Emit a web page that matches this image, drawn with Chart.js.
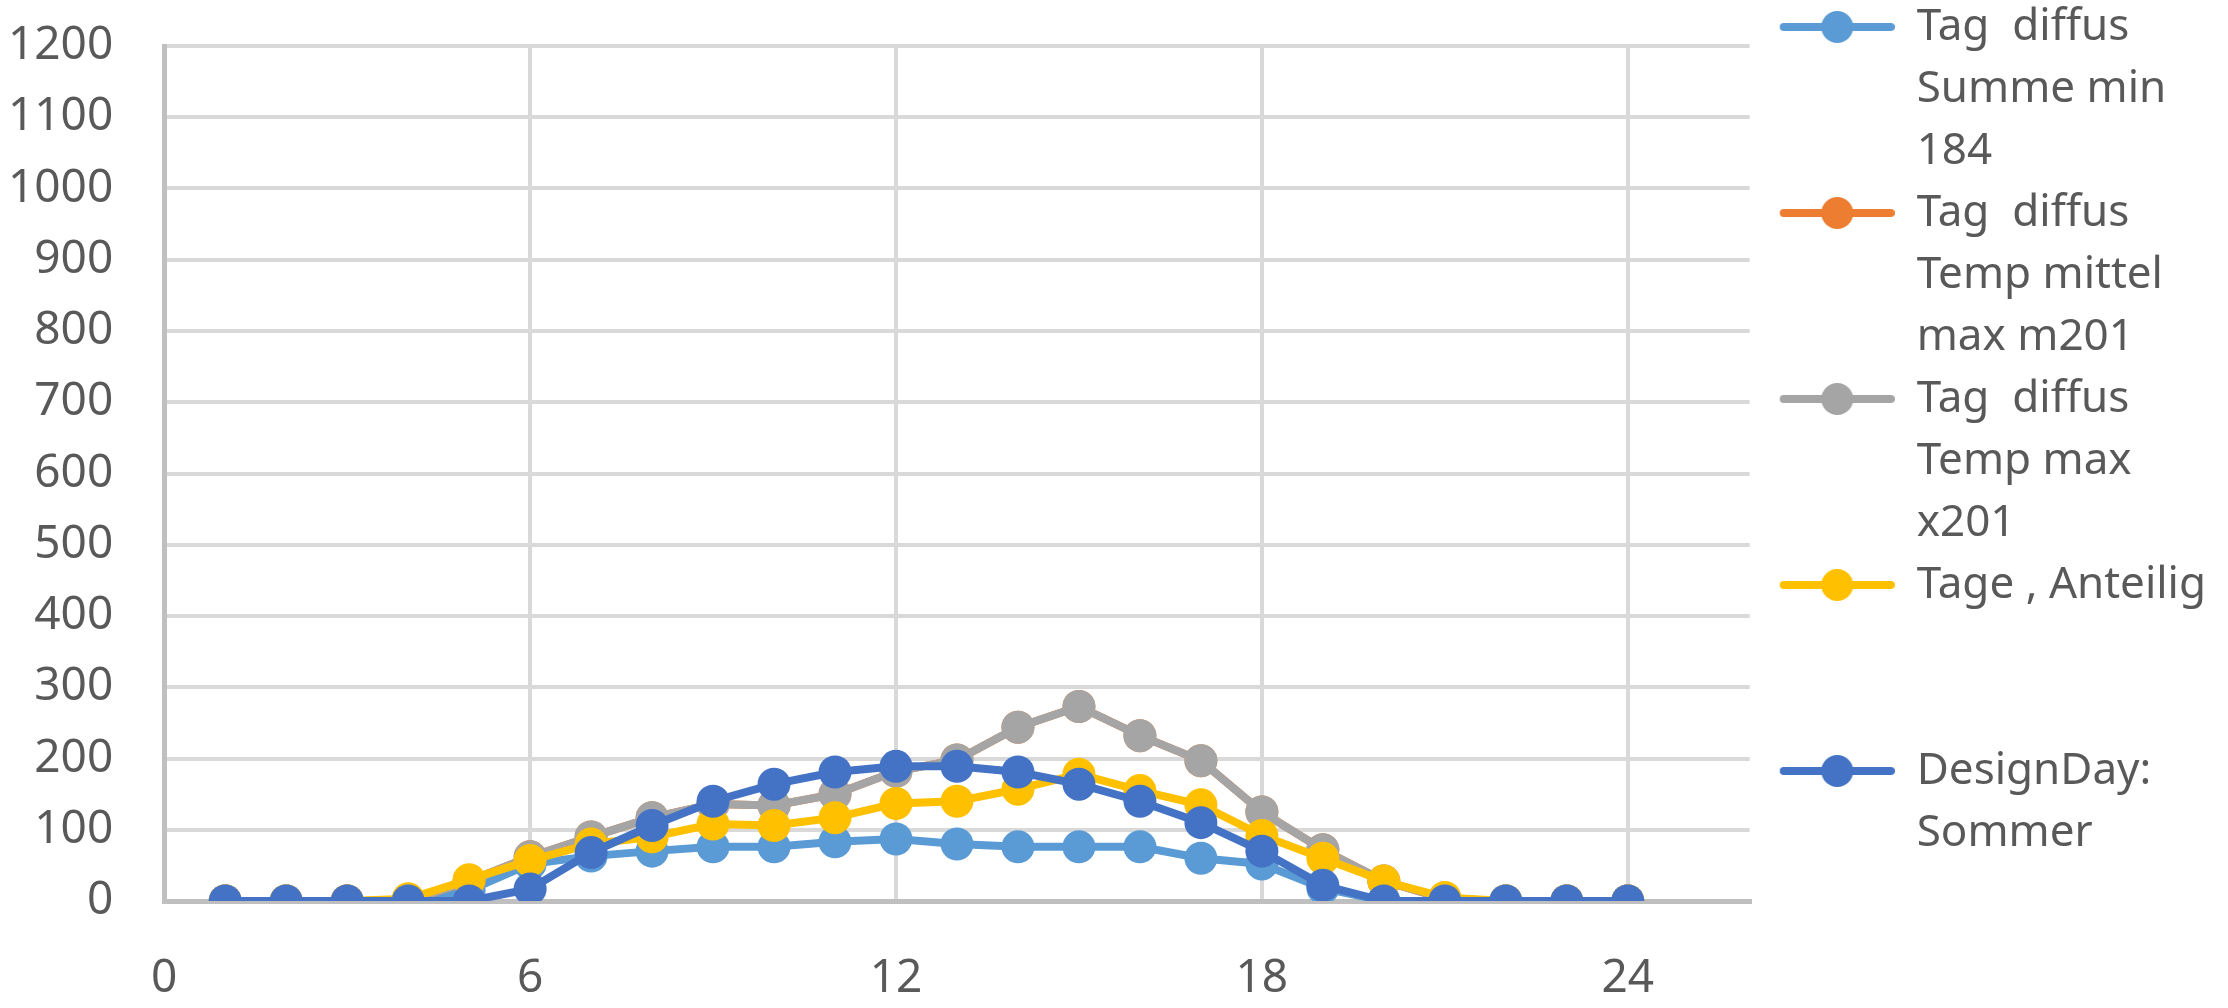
<!DOCTYPE html>
<html>
<head>
<meta charset="utf-8">
<script src="https://cdn.jsdelivr.net/npm/chart.js@4.4.0/dist/chart.umd.min.js"></script>
<style>
  body { margin: 0; background: #fff; }
  #wrap { width: 2228px; height: 1008px; }
</style>
</head>
<body>
<div id="wrap"><canvas id="chart"></canvas></div>
<script>
// hours of the day
const hours = [1, 2, 3, 4, 5, 6, 7, 8, 9, 10, 11, 12, 13, 14, 15, 16, 17, 18, 19, 20, 21, 22, 23, 24];

// series values
const summeMin = [0, 0, 0, 0, 15, 52, 63, 70, 76, 76, 83, 87, 80, 76, 76, 76, 60, 52, 18, 0, 0, 0, 0, 0];
const tempMittelMax = [0, 0, 0, 0, 28, 62, 90, 117, 136, 134, 150, 182, 198, 244, 273, 232, 197, 125, 72, 28, 3, 0, 0, 0];
const tempMax = [0, 0, 0, 0, 28, 62, 90, 117, 136, 134, 150, 182, 198, 244, 273, 232, 197, 125, 72, 28, 3, 0, 0, 0];
const tageAnteilig = [0, 0, 0, 3, 30, 57, 80, 90, 108, 106, 117, 137, 140, 157, 178, 155, 135, 92, 60, 28, 5, 0, 0, 0];
const designDay = [0, 0, 0, 0, 0, 17, 68, 106, 140, 164, 181, 189, 189, 181, 164, 140, 110, 70, 22, 0, 0, 0, 0, 0];

const seriesLabels = [
  ['Tag  diffus', 'Summe min', '184'],
  ['Tag  diffus', 'Temp mittel', 'max m201'],
  ['Tag  diffus', 'Temp max', 'x201'],
  ['Tage , Anteilig', '', ''],
  ['DesignDay:', 'Sommer', '']
];
const seriesColors = ['#5B9BD5', '#ED7D31', '#A5A5A5', '#FFC000', '#4472C4'];

const xTickStep = 6;
const yTickStep = 100;

const textColor = '#595959';
const gridColor = '#D9D9D9';
const axisColor = '#BFBFBF';

// legend marker: line with a dot, like the spreadsheet legend
const makeMarker = (color) => {
  const c = document.createElement('canvas');
  c.width = 145;
  c.height = 40;
  const g = c.getContext('2d');
  g.strokeStyle = color;
  g.lineWidth = 8;
  g.lineCap = 'round';
  g.beginPath();
  g.moveTo(34, 20);
  g.lineTo(141, 20);
  g.stroke();
  g.fillStyle = color;
  g.beginPath();
  g.arc(87.5, 20, 16, 0, Math.PI * 2);
  g.fill();
  return c;
};

const toPoints = (values) => hours.map((h, i) => ({ x: h, y: values[i] }));

const allSeries = [summeMin, tempMittelMax, tempMax, tageAnteilig, designDay];

const datasets = allSeries.map((values, i) => ({
  label: seriesLabels[i].join(' '),
  data: toPoints(values),
  borderColor: seriesColors[i],
  backgroundColor: seriesColors[i],
  pointBackgroundColor: seriesColors[i],
  pointBorderColor: seriesColors[i],
  borderWidth: 8,
  pointRadius: 16.5,
  pointHoverRadius: 16.5,
  pointBorderWidth: 0,
  tension: 0,
  order: allSeries.length - i
}));

const ctx = document.getElementById('chart').getContext('2d');
new Chart(ctx, {
  type: 'line',
  data: { datasets },
  options: {
    responsive: true,
    maintainAspectRatio: false,
    animation: false,
    layout: { padding: { top: 5, left: 8, right: 12, bottom: 2 } },
    plugins: {
      tooltip: { enabled: false },
      legend: {
        position: 'right',
        align: 'start',
        labels: {
          usePointStyle: true,
          pointStyleWidth: 145,
          padding: 0,
          color: textColor,
          font: { family: 'Noto Sans', size: 44, lineHeight: '62px' },
          generateLabels: (chart) =>
            chart.data.datasets.map((ds, i) => ({
              text: seriesLabels[i],
              fillStyle: seriesColors[i],
              strokeStyle: seriesColors[i],
              fontColor: textColor,
              lineWidth: 0,
              pointStyle: makeMarker(seriesColors[i]),
              hidden: false,
              datasetIndex: i
            }))
        }
      }
    },
    scales: {
      x: {
        type: 'linear',
        min: 0,
        max: 26,
        ticks: {
          stepSize: xTickStep,
          includeBounds: false,
          padding: 0,
          color: textColor,
          font: { family: 'Noto Sans', size: 46, lineHeight: '54px' },
          callback: (v) => String(v)
        },
        grid: {
          color: (c) => (c.tick && c.tick.value === 0 ? axisColor : gridColor),
          lineWidth: 4,
          drawTicks: true,
          tickLength: 51,
          tickColor: 'rgba(0,0,0,0)'
        },
        border: { color: axisColor, width: 5 }
      },
      y: {
        min: 0,
        max: 1200,
        ticks: {
          stepSize: yTickStep,
          autoSkip: false,
          padding: 0,
          color: textColor,
          font: { family: 'Noto Sans', size: 46, lineHeight: '92px' },
          callback: (v) => String(v)
        },
        grid: {
          color: (c) => (c.tick && c.tick.value === 0 ? axisColor : gridColor),
          lineWidth: 4,
          drawTicks: true,
          tickLength: 51,
          tickColor: 'rgba(0,0,0,0)'
        },
        border: { color: axisColor, width: 5 }
      }
    }
  }
});
</script>
</body>
</html>
